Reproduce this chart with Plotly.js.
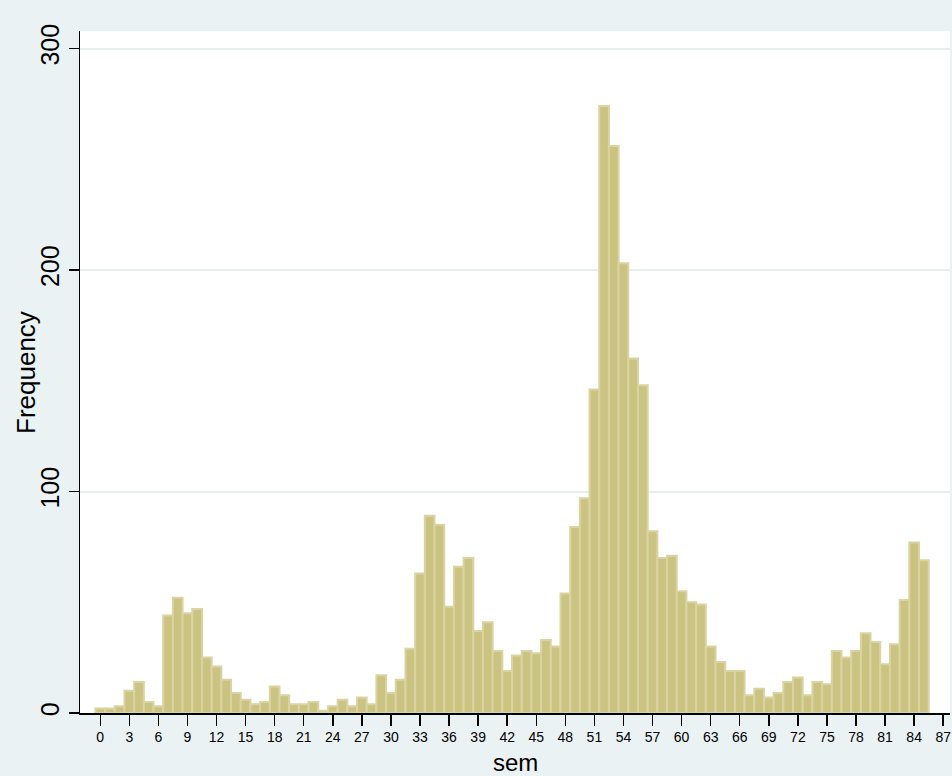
<!DOCTYPE html>
<html>
<head>
<meta charset="utf-8">
<script src="https://cdn.plot.ly/plotly-3.0.1.min.js"></script>
<style>
  html, body { margin: 0; padding: 0; background: #eaf2f3; }
  #chart { width: 952px; height: 776px; }
</style>
</head>
<body>
<div id="chart"></div>
<script>
// Category values (sem) and their frequencies
const sem = [0, 1, 2, 3, 4, 5, 6, 7, 8, 9, 10, 11, 12, 13, 14, 15, 16, 17, 18, 19,
  20, 21, 22, 23, 24, 25, 26, 27, 28, 29, 30, 31, 32, 33, 34, 35, 36, 37, 38, 39,
  40, 41, 42, 43, 44, 45, 46, 47, 48, 49, 50, 51, 52, 53, 54, 55, 56, 57, 58, 59,
  60, 61, 62, 63, 64, 65, 66, 67, 68, 69, 70, 71, 72, 73, 74, 75, 76, 77, 78, 79,
  80, 81, 82, 83, 84, 85];
const frequency = [2, 2, 3, 10, 14, 5, 3, 44, 52, 45, 47, 25, 21, 15, 9, 6, 4, 5, 12, 8,
  4, 4, 5, 1, 3, 6, 3, 7, 4, 17, 9, 15, 29, 63, 89, 85, 48, 66, 70, 37,
  41, 28, 19, 26, 28, 27, 33, 30, 54, 84, 97, 146, 274, 256, 203, 160, 148, 82, 70, 71,
  55, 50, 49, 30, 23, 19, 19, 8, 11, 7, 9, 14, 16, 8, 14, 13, 28, 25, 28, 36,
  32, 22, 31, 51, 77, 69];
const xTicks = [0, 3, 6, 9, 12, 15, 18, 21, 24, 27, 30, 33, 36, 39, 42, 45, 48, 51, 54, 57,
  60, 63, 66, 69, 72, 75, 78, 81, 84, 87];
const yTicks = [0, 100, 200, 300];
const xTitle = 'sem';
const yTitle = 'Frequency';

const trace = {
  type: 'bar',
  x: sem,
  y: frequency,
  width: 1,
  marker: {
    color: '#cbc382',
    line: { color: '#dad4a2', width: 2 }
  },
  hoverinfo: 'x+y'
};

const layout = {
  width: 952,
  height: 776,
  margin: { l: 80, r: 2, t: 31, b: 63, pad: 0 },
  paper_bgcolor: '#eaf2f3',
  plot_bgcolor: '#ffffff',
  bargap: 0,
  showlegend: false,
  font: { family: 'Liberation Sans, Arial, sans-serif', color: '#000000' },
  xaxis: {
    range: [-2.09, 87.7],
    tickmode: 'array',
    tickvals: xTicks,
    ticktext: xTicks.map(String),
    ticks: 'outside',
    ticklen: 11,
    tickwidth: 1.5,
    tickcolor: '#000000',
    showline: true,
    linecolor: '#000000',
    linewidth: 1.5,
    showgrid: false,
    zeroline: false,
    tickfont: { size: 14, color: '#000000' }
  },
  yaxis: {
    range: [0, 307.9],
    tickmode: 'array',
    tickvals: yTicks,
    ticktext: yTicks.map(String),
    tickangle: -90,
    ticks: 'outside',
    ticklen: 10,
    tickwidth: 1.5,
    tickcolor: '#000000',
    showline: true,
    linecolor: '#000000',
    linewidth: 1.5,
    showgrid: true,
    gridcolor: '#e6eef0',
    gridwidth: 2,
    zeroline: false,
    ticklabelstandoff: 0,
    tickfont: { size: 25, color: '#000000' }
  },
  annotations: [
    {
      text: xTitle, xref: 'paper', yref: 'paper',
      x: 0.5, y: -0.0733, xanchor: 'center', yanchor: 'middle',
      showarrow: false, font: { size: 24, color: '#000000' }
    },
    {
      text: yTitle, xref: 'paper', yref: 'paper',
      x: -0.0621, y: 0.5, xanchor: 'center', yanchor: 'middle',
      textangle: -90, showarrow: false, font: { size: 26, color: '#000000' }
    }
  ]
};

Plotly.newPlot('chart', [trace], layout, { displayModeBar: false, staticPlot: true });
</script>
</body>
</html>
